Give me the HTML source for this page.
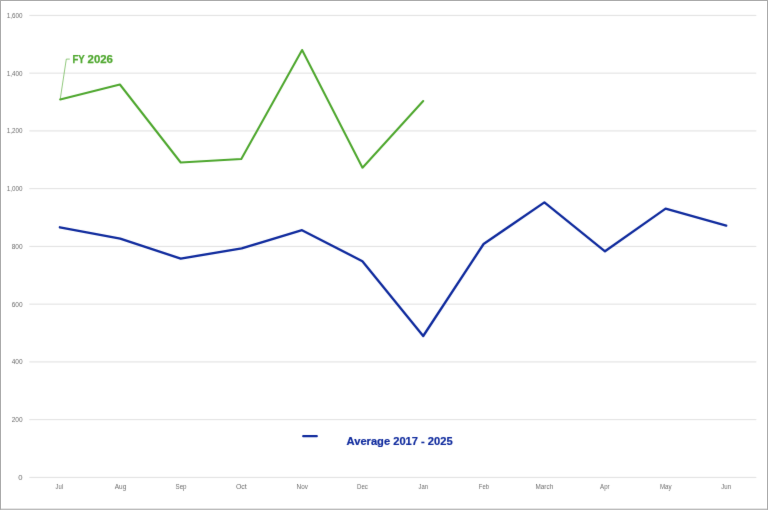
<!DOCTYPE html>
<html><head><meta charset="utf-8"><title>Chart</title>
<style>
html,body{margin:0;padding:0;background:#fff;}
body{width:768px;height:512px;overflow:hidden;font-family:"Liberation Sans",sans-serif;}
svg{display:block;position:absolute;left:0;top:0;will-change:transform;}
text{font-family:"Liberation Sans",sans-serif;}
.ax{font-size:7px;fill:#6c6c6c;}
</style></head><body>
<svg width="768" height="512" viewBox="0 0 768 512">
<rect x="0" y="0" width="768" height="512" fill="#ffffff"/>

<rect x="0" y="0" width="768" height="1" fill="#aaaaaa"/>
<rect x="0" y="0" width="1" height="509.7" fill="#aaaaaa"/>
<rect x="767" y="0" width="1" height="509.7" fill="#aaaaaa"/>
<rect x="0" y="508.7" width="768" height="1.05" fill="#a8a8a8"/>
<defs><filter id="b" x="0" y="0" width="768" height="512" filterUnits="userSpaceOnUse" color-interpolation-filters="sRGB"><feConvolveMatrix order="3" kernelMatrix="0.00524 0.06192 0.00524 0.06192 0.73137 0.06192 0.00524 0.06192 0.00524" divisor="1" edgeMode="none" preserveAlpha="false"/></filter></defs>
<g filter="url(#b)">
<line x1="29.3" x2="756.3" y1="15.40" y2="15.40" stroke="#d3d3d3" stroke-width="0.7"/>
<line x1="29.3" x2="756.3" y1="73.15" y2="73.15" stroke="#d3d3d3" stroke-width="0.7"/>
<line x1="29.3" x2="756.3" y1="130.90" y2="130.90" stroke="#d3d3d3" stroke-width="0.7"/>
<line x1="29.3" x2="756.3" y1="188.65" y2="188.65" stroke="#d3d3d3" stroke-width="0.7"/>
<line x1="29.3" x2="756.3" y1="246.40" y2="246.40" stroke="#d3d3d3" stroke-width="0.7"/>
<line x1="29.3" x2="756.3" y1="304.15" y2="304.15" stroke="#d3d3d3" stroke-width="0.7"/>
<line x1="29.3" x2="756.3" y1="361.90" y2="361.90" stroke="#d3d3d3" stroke-width="0.7"/>
<line x1="29.3" x2="756.3" y1="419.65" y2="419.65" stroke="#d3d3d3" stroke-width="0.7"/>
<line x1="29.3" x2="756.3" y1="477.40" y2="477.40" stroke="#d3d3d3" stroke-width="0.7"/>
<text class="ax" x="6.8" y="17.90" textLength="15.8" lengthAdjust="spacingAndGlyphs">1,600</text>
<text class="ax" x="6.8" y="75.65" textLength="15.8" lengthAdjust="spacingAndGlyphs">1,400</text>
<text class="ax" x="6.8" y="133.40" textLength="15.8" lengthAdjust="spacingAndGlyphs">1,200</text>
<text class="ax" x="6.8" y="191.15" textLength="15.8" lengthAdjust="spacingAndGlyphs">1,000</text>
<text class="ax" x="11.7" y="248.90" textLength="10.9" lengthAdjust="spacingAndGlyphs">800</text>
<text class="ax" x="11.7" y="306.65" textLength="10.9" lengthAdjust="spacingAndGlyphs">600</text>
<text class="ax" x="11.7" y="364.40" textLength="10.9" lengthAdjust="spacingAndGlyphs">400</text>
<text class="ax" x="11.7" y="422.15" textLength="10.9" lengthAdjust="spacingAndGlyphs">200</text>
<text class="ax" x="18.3" y="479.90" textLength="4.3" lengthAdjust="spacingAndGlyphs">0</text>
<text class="ax" x="55.6" y="489" textLength="7.5" lengthAdjust="spacingAndGlyphs">Jul</text>
<text class="ax" x="114.8" y="489" textLength="11.5" lengthAdjust="spacingAndGlyphs">Aug</text>
<text class="ax" x="175.5" y="489" textLength="11.1" lengthAdjust="spacingAndGlyphs">Sep</text>
<text class="ax" x="235.9" y="489" textLength="10.9" lengthAdjust="spacingAndGlyphs">Oct</text>
<text class="ax" x="296.6" y="489" textLength="11.3" lengthAdjust="spacingAndGlyphs">Nov</text>
<text class="ax" x="357.0" y="489" textLength="10.9" lengthAdjust="spacingAndGlyphs">Dec</text>
<text class="ax" x="418.6" y="489" textLength="9.5" lengthAdjust="spacingAndGlyphs">Jan</text>
<text class="ax" x="478.8" y="489" textLength="10.2" lengthAdjust="spacingAndGlyphs">Feb</text>
<text class="ax" x="535.5" y="489" textLength="17.7" lengthAdjust="spacingAndGlyphs">March</text>
<text class="ax" x="600.1" y="489" textLength="9.5" lengthAdjust="spacingAndGlyphs">Apr</text>
<text class="ax" x="659.9" y="489" textLength="11.7" lengthAdjust="spacingAndGlyphs">May</text>
<text class="ax" x="721.3" y="489" textLength="9.8" lengthAdjust="spacingAndGlyphs">Jun</text>
<polyline fill="none" stroke="#4ea72e" stroke-width="2.05" stroke-linecap="round" stroke-linejoin="round" points="60.2,99.4 119.9,84.5 180.7,162.5 241.3,159.1 302.1,50.0 362.5,167.7 423.2,101.0"/>
<polyline fill="none" stroke="#0f2a9d" stroke-width="2.35" stroke-linecap="round" stroke-linejoin="round" points="59.9,227.3 120.2,238.6 180.7,258.6 241.7,248.4 302.0,230.2 362.4,261.2 423.2,336.0 483.6,244.0 544.4,202.4 605.0,251.3 665.6,208.6 726.2,225.6"/>
<polyline fill="none" stroke="#4ea72e" stroke-width="0.62" points="60.2,99.4 66.3,59.1 69.8,59.1"/>
<text x="72.5" y="62.8" font-size="10.7px" font-weight="bold" fill="#4ea72e" stroke="#4ea72e" stroke-width="0.25" textLength="12.3" lengthAdjust="spacingAndGlyphs">FY</text>
<text x="87.6" y="62.8" font-size="10.7px" font-weight="bold" fill="#4ea72e" stroke="#4ea72e" stroke-width="0.25" textLength="25.3" lengthAdjust="spacingAndGlyphs">2026</text>
<line x1="303.2" x2="316.8" y1="436.2" y2="436.2" stroke="#0f2a9d" stroke-width="2.2" stroke-linecap="round"/>
<text x="346.6" y="444.9" font-size="10.67px" font-weight="bold" fill="#0f2a9d" stroke="#0f2a9d" stroke-width="0.2" textLength="106.0" lengthAdjust="spacingAndGlyphs">Average 2017 - 2025</text>
</g>
</svg></body></html>
